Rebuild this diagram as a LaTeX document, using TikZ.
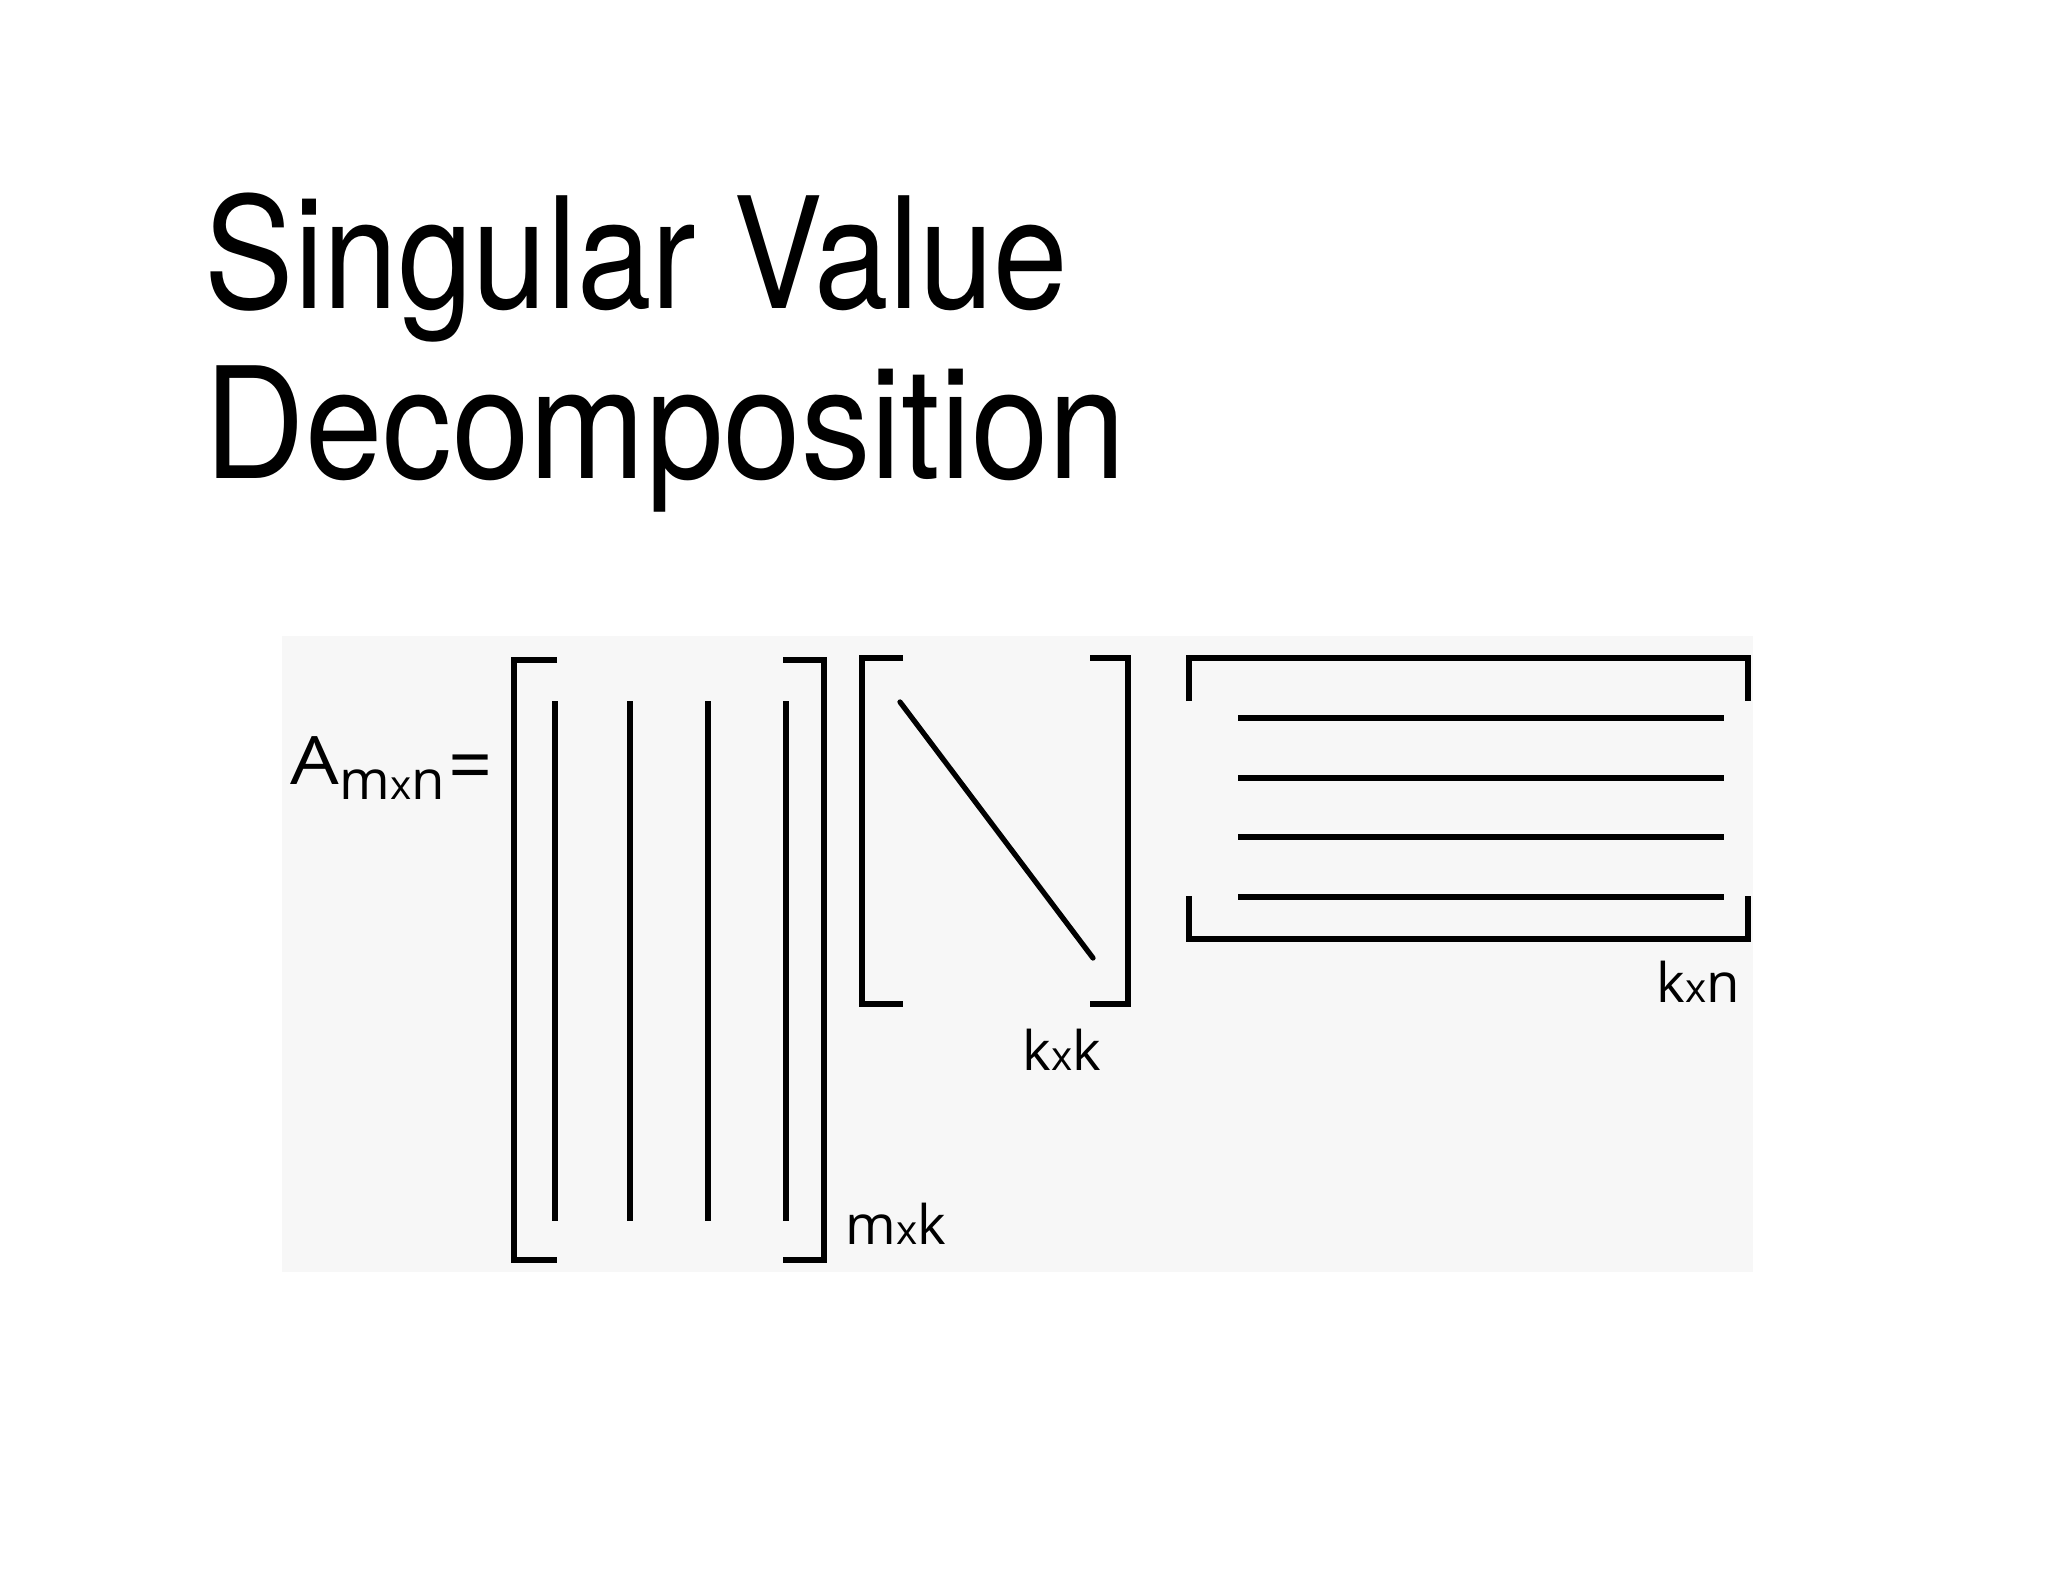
\documentclass[tikz,border=0pt]{standalone}
\usepackage{fontspec}
\setmainfont{TeX Gyre Heros}
\newfontfamily\labelfont{Open Sans}
\definecolor{panelgray}{RGB}{247,247,247}
\newcommand\tx{{\fontsize{11.5}{11.5}\selectfont x}}
\begin{document}
\begin{tikzpicture}[x=0.01cm, y=-0.01cm,
        bracket/.style={line width=1.8pt, line join=miter},
        entry/.style={line width=1.6pt},
        dimlabel/.style={anchor=base west, inner sep=0pt, font=\labelfont\fontsize{15.5}{15.5}\selectfont}]
        \useasboundingbox (0,0) rectangle (2048,1582);
        \fill[panelgray] (282,636) rectangle (1753,1272);
        \node[anchor=base west, inner sep=0pt, font=\fontsize{44}{48}\selectfont] (title1) at (204,308) {\scalebox{0.866}[1]{Singular Value}};
        \node[anchor=base west, inner sep=0pt, font=\fontsize{44}{48}\selectfont] (title2) at (204,478) {\scalebox{0.90}[1]{Decomposition}};
        \node[anchor=base west, inner sep=0pt, font=\labelfont\fontsize{19}{19}\selectfont] (lhs) at (290,784)
            {\scalebox{1.15}[1]{A}\raisebox{-4.5pt}{\fontsize{15.5}{15.5}\selectfont m\tx n}\kern1pt\raisebox{-2.5pt}{\fontsize{22}{22}\selectfont=}};
        % U
        \draw[bracket] (557,660) -- (514,660) -- (514,1260) -- (557,1260);
        \draw[bracket] (783,660) -- (824,660) -- (824,1260) -- (783,1260);
        \foreach \x in {555,630,708,786} \draw[entry] (\x,701) -- (\x,1221);
        \node[dimlabel] (dimU) at (845,1244) {m\tx k};
        % Sigma
        \draw[bracket] (903,658) -- (862,658) -- (862,1004) -- (903,1004);
        \draw[bracket] (1090,658) -- (1128,658) -- (1128,1004) -- (1090,1004);
        \draw[line width=1.5pt, line cap=round] (900,702) -- (1093,958);
        \node[dimlabel] (dimS) at (1022,1070) {k\tx k};
        % V^T
        \draw[bracket] (1189,701) -- (1189,658) -- (1748,658) -- (1748,701);
        \draw[bracket] (1189,896) -- (1189,939) -- (1748,939) -- (1748,896);
        \foreach \y in {718,778,837,897} \draw[entry] (1238,\y) -- (1724,\y);
        \node[dimlabel] (dimV) at (1656,1002) {k\tx n};
    \end{tikzpicture}
\end{document}
